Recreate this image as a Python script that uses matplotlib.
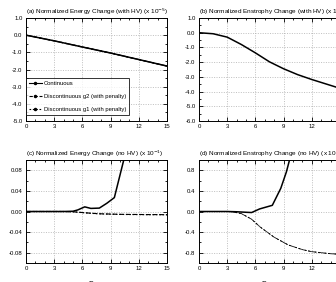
import numpy as np
import matplotlib
matplotlib.use("Agg")
from matplotlib import pyplot as plt
from matplotlib.ticker import MultipleLocator

plt.rcParams['font.family'] = ['Liberation Sans', 'DejaVu Sans']
plt.rcParams['axes.unicode_minus'] = False

# (a) energy change with HV
a_days = [0, 3, 6, 9, 12, 15]
a_cont = [0.0, -0.33, -0.69, -1.04, -1.42, -1.80]
a_g2 = [0.0, -0.33, -0.69, -1.04, -1.42, -1.80]
a_g1 = [0.0, -0.33, -0.69, -1.04, -1.42, -1.80]

# (b) enstrophy change with HV
b_days = [0, 1.5, 3, 4.5, 6, 7.5, 9, 10.5, 12, 13.5, 15]
b_cont = [0.0, -0.07, -0.30, -0.80, -1.37, -1.98, -2.45, -2.85, -3.18, -3.48, -3.78]

# (c) energy change, no HV
c_days = [0, 1, 2, 3, 4, 5, 5.5, 6.25, 6.9, 7.8, 8.6, 9.4, 10.4, 11.2]
c_cont = [0, 0, 0, 0, 0, 0.0005, 0.003, 0.009, 0.006, 0.0066, 0.016, 0.027, 0.10, 0.16]
c_lo_days = [0, 1, 2, 3, 4, 5, 6, 7, 8, 9, 10, 11, 12, 13, 14, 15]
c_g2 = [0, 0, 0, 0, 0, -0.0005, -0.002, -0.0035, -0.0045, -0.005, -0.0055, -0.0057, -0.0058, -0.006, -0.006, -0.0062]
c_g1 = [0, 0, 0, 0, 0, -0.0006, -0.0022, -0.0037, -0.0047, -0.0052, -0.0057, -0.0059, -0.006, -0.0062, -0.0062, -0.0064]

# (d) enstrophy change, no HV
d_days = [0, 1, 2, 3, 4, 5, 5.6, 6.45, 7.8, 8.7, 9.3, 9.7]
d_cont = [0, 0, 0, 0, -0.005, -0.015, -0.02, 0.05, 0.12, 0.45, 0.77, 1.05]
d_lo_days = [0, 1, 2, 3, 3.5, 4.5, 5.6, 6.5, 8, 9.5, 11, 12, 13, 14, 15]
d_g2 = [0, 0, 0, 0, -0.005, -0.04, -0.15, -0.30, -0.50, -0.65, -0.74, -0.78, -0.80, -0.82, -0.83]
d_g1 = d_g2

titles = ["(a) Normalized Energy Change (with HV) (x 10$^{-5}$)",
          "(b) Normalized Enstrophy Change (with HV) (x 10$^{-5}$)",
          "(c) Normalized Energy Change (no HV) (x 10$^{-1}$)",
          "(d) Normalized Enstrophy Change (no HV) (x 10$^{-1}$)"]
labels = ["Continuous", "Discontinuous g2 (with penalty)", "Discontinuous g1 (with penalty)"]

fig = plt.figure(figsize=(3.36, 2.82), dpi=100)
W = 141 / 336
H = 103 / 282
axa = fig.add_axes([26 / 336, 1 - 121 / 282, W, H])
axb = fig.add_axes([199 / 336, 1 - 121 / 282, W, H])
axc = fig.add_axes([26 / 336, 1 - 263 / 282, W, H])
axd = fig.add_axes([199 / 336, 1 - 263 / 282, W, H])

# ylim, major step, minor step, tick format
setup = [(axa, (-5, 1), 1.0, 0.5, "%.1f"),
         (axb, (-6, 1), 1.0, 0.5, "%.1f"),
         (axc, (-0.1, 0.1), 0.04, 0.02, "%.2f"),
         (axd, (-1, 1), 0.4, 0.2, "%.1f")]

for (ax, ylim, maj, mnr, fmt), t in zip(setup, titles):
    ax.set_xlim(0, 15)
    ax.set_ylim(*ylim)
    ax.xaxis.set_major_locator(MultipleLocator(3))
    ax.xaxis.set_minor_locator(MultipleLocator(1))
    if maj == 0.04:
        ax.set_yticks([-0.08, -0.04, 0.0, 0.04, 0.08])
    elif maj == 0.4:
        ax.set_yticks([-0.8, -0.4, 0.0, 0.4, 0.8])
    else:
        ax.yaxis.set_major_locator(MultipleLocator(maj))
    ax.yaxis.set_minor_locator(MultipleLocator(mnr))
    ax.yaxis.set_major_formatter(matplotlib.ticker.FormatStrFormatter(fmt))
    ax.tick_params(which='both', direction='in', top=True, right=True,
                   labelsize=4.3, width=0.6, pad=2.5)
    ax.tick_params(which='major', length=3)
    ax.tick_params(which='minor', length=1.5)
    ax.grid(True, which='major', linestyle=(0, (1.5, 2)), color='#aaaaaa', linewidth=0.5)
    for s in ax.spines.values():
        s.set_linewidth(0.7)
    ax.set_title(t, loc='left', fontsize=4.6, pad=3)

lw = 1.1
axa.plot(a_days, a_g1, color='black', lw=0.8, ls=(0, (2, 2)))
axa.plot(a_days, a_g2, color='black', lw=0.8, ls=(0, (4, 2)))
axa.plot(a_days, a_cont, color='black', lw=lw)

axb.plot(b_days, b_cont, color='black', lw=lw)

axc.plot(c_lo_days, c_g1, color='black', lw=0.8, ls=(0, (1.5, 1.5)))
axc.plot(c_lo_days, c_g2, color='black', lw=0.8, ls=(0, (4, 2)))
axc.plot(c_days, c_cont, color='black', lw=lw)

axd.plot(d_lo_days, d_g1, color='black', lw=0.6, ls=(0, (2, 2)))
axd.plot(d_lo_days, d_g2, color='black', lw=0.6, ls=(0, (4, 2)))
axd.plot(d_days, d_cont, color='black', lw=lw)

# legend in panel (a)
h1, = axa.plot([], [], color='black', lw=0.8, marker='o', ms=1.5, label=labels[0])
h2, = axa.plot([], [], color='black', lw=0.8, ls=(0, (3, 1.5)), marker='o', ms=1.5, label=labels[1])
h3, = axa.plot([], [], color='black', lw=0.8, ls=(0, (1.5, 1.5)), marker='o', ms=1.5, label=labels[2])
leg = axa.legend(handles=[h1, h2, h3], loc='lower left', bbox_to_anchor=(0.0, 0.06),
                 fontsize=4.2, frameon=True, fancybox=False, edgecolor='black',
                 handlelength=2.2, handletextpad=0.3, borderpad=0.5, labelspacing=1.35,
                 borderaxespad=0.0, markerscale=1.0)
leg.get_frame().set_linewidth(0.7)

fig.text(96 / 336, 1.5 / 282, "Days", ha='center', va='top', fontsize=5)
fig.text(269 / 336, 1.5 / 282, "Days", ha='center', va='top', fontsize=5)

fig.savefig("out.png", dpi=100)
